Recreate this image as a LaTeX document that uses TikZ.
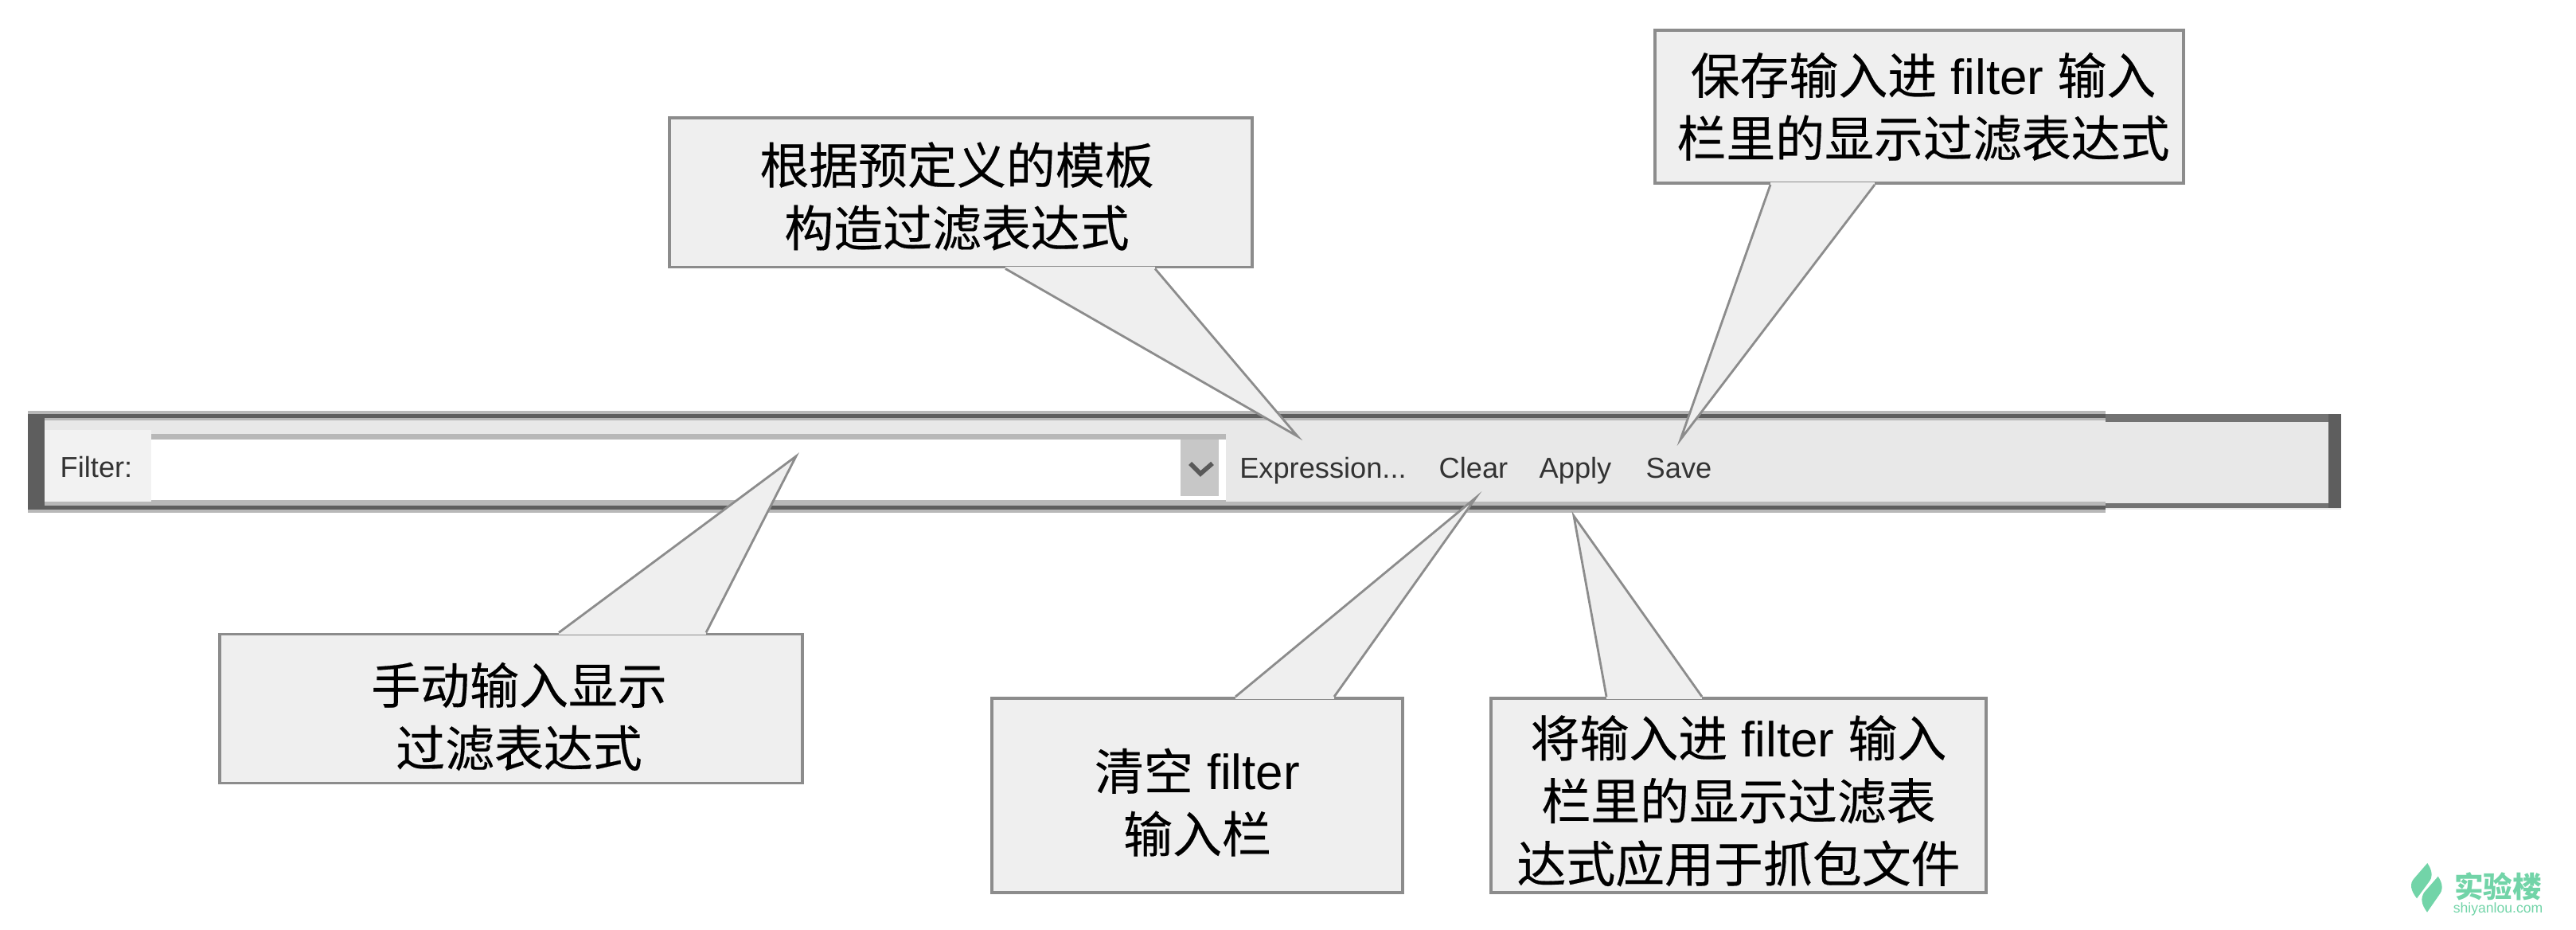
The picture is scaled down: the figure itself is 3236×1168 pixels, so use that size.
\documentclass[tikz,border=0pt]{standalone}
\usepackage{fontspec}
\setmainfont{Liberation Sans}
\newfontfamily\cjk[FakeBold=0.3]{Noto Sans CJK SC}
\newfontfamily\logocjk{Noto Sans CJK SC}
\definecolor{notefill}{HTML}{EFEFEF}
\definecolor{noteedge}{HTML}{8C8C8C}
\definecolor{barfill}{HTML}{E8E8E8}
\definecolor{bardark}{HTML}{5E5E5E}
\definecolor{barhalo}{HTML}{B8B8B8}
\definecolor{logo}{HTML}{72D4A8}
\tikzset{
  notebox/.style={draw=noteedge, fill=notefill, line width=1.1pt, inner sep=0pt, align=center,
    font=\fontsize{17.6}{22.4}\selectfont},
  barlabel/.style={inner sep=0pt, text=black!80, text height=8pt, text depth=2pt,
    font=\fontsize{10.3}{12}\selectfont},
}

\begin{document}
\begin{tikzpicture}[x=0.01cm, y=-0.01cm]
  \useasboundingbox (0,0) rectangle (3236,1168);

  % Toolbar
  \fill[barhalo] (35,516) rectangle (2645,644);
  \fill[barfill] (35,520) rectangle (2941,640);
  \fill[barhalo] (35,525) rectangle (2645,528);
  \fill[barhalo] (35,630) rectangle (2645,635);
  \fill[bardark] (35,520) rectangle (2645,525);
  \fill[bardark] (35,635) rectangle (2645,640);
  \fill[black!55] (2645,520) rectangle (2941,530);
  \fill[black!55] (2645,632) rectangle (2941,638);
  \fill[bardark] (35,520) rectangle (56,640);
  \fill[bardark] (2925,520) rectangle (2941,638);
  \fill[black!5] (56,540) rectangle (190,630);

  % Input field and drop-down button
  \fill[white] (190,545) rectangle (1540,633);
  \fill[barhalo] (190,545) rectangle (1540,552);
  \fill[barhalo] (190,628) rectangle (1540,634);
  \fill[black!22] (1483,552) rectangle (1531,623);
  \draw[black!65, line width=1.6pt] (1495,582) -- (1508,595) -- (1523,582);

  % Toolbar labels
  \node[barlabel] (filterlabel) at (121,589) {Filter:};
  \node[barlabel] (exprlabel) at (1662,590) {Expression...};
  \node[barlabel] (clearlabel) at (1851,590) {Clear};
  \node[barlabel] (applylabel) at (1979,590) {Apply};
  \node[barlabel] (savelabel) at (2109,590) {Save};

  % Notes
  \node[notebox, minimum width=7.31cm, minimum height=1.87cm] (exprnote) at (1207,242)
    {\rule{0pt}{17.5pt}{\cjk 根据预定义的模板}\hspace*{0.1cm}\\{\cjk 构造过滤表达式}\hspace*{0.1cm}};
  \node[notebox, minimum width=6.64cm, minimum height=1.92cm] (savenote) at (2411,134)
    {\hspace*{0.1cm}{\cjk 保存输入进} filter {\cjk 输入}\\\hspace*{0.1cm}{\cjk 栏里的显示过滤表达式}};
  \node[notebox, minimum width=7.31cm, minimum height=1.87cm] (inputnote) at (642,890)
    {\rule{0pt}{20.5pt}\hspace*{0.2cm}{\cjk 手动输入显示}\\\hspace*{0.2cm}{\cjk 过滤表达式}};
  \node[notebox, minimum width=5.15cm, minimum height=2.44cm] (clearnote) at (1504,999)
    {\rule{0pt}{19.8pt}{\cjk 清空} filter\\{\cjk 输入栏}};
  \node[notebox, minimum width=6.21cm, minimum height=2.44cm] (applynote) at (2184,999)
    {\rule{0pt}{18.7pt}{\cjk 将输入进} filter {\cjk 输入}\\{\cjk 栏里的显示过滤表}\\{\cjk 达式应用于抓包文件}};

  % Pointers: note, side, x of both base points, tip
  \foreach \note/\side/\lx/\rx/\tx/\ty in {
    exprnote/south/1263/1451/1630/548,
    savenote/south/2224/2355/2111/552,
    inputnote/north/702/887/1000/573,
    clearnote/north/1552/1676/1854/625,
    applynote/north/2018/2138/1977/648
  } {
    \coordinate (\note a) at (\note.\side -| \lx,0);
    \coordinate (\note b) at (\note.\side -| \rx,0);
    \coordinate (\note tip) at (\tx,\ty);
    \fill[notefill] (\note a) -- (\note tip) -- (\note b) -- cycle;
    \draw[notefill, line width=1.6pt] (\note a) -- (\note b);
    \draw[noteedge, line width=0.8pt] (\note a) -- (\note tip) -- (\note b);
  }

  % Watermark
  \fill[logo] (3049.3,1084) .. controls (3056,1094) and (3056,1102) .. (3051,1108)
    -- (3036,1128.3) .. controls (3028,1118) and (3027,1110) .. (3032,1104) -- cycle;
  \fill[logo] (3062.7,1100.7) .. controls (3069,1110) and (3069,1118) .. (3064,1124)
    -- (3049,1145.7) .. controls (3041,1135) and (3041,1128) .. (3045,1121) -- cycle;
  \node[inner sep=0pt, text=logo, font=\fontsize{10.4}{12}\selectfont\logocjk\bfseries] (logotext) at (3138,1113) {实验楼};
  \node[inner sep=0pt, text=logo, font=\fontsize{5}{6}\selectfont] (logourl) at (3138,1142) {shiyanlou.com};
\end{tikzpicture}
\end{document}
